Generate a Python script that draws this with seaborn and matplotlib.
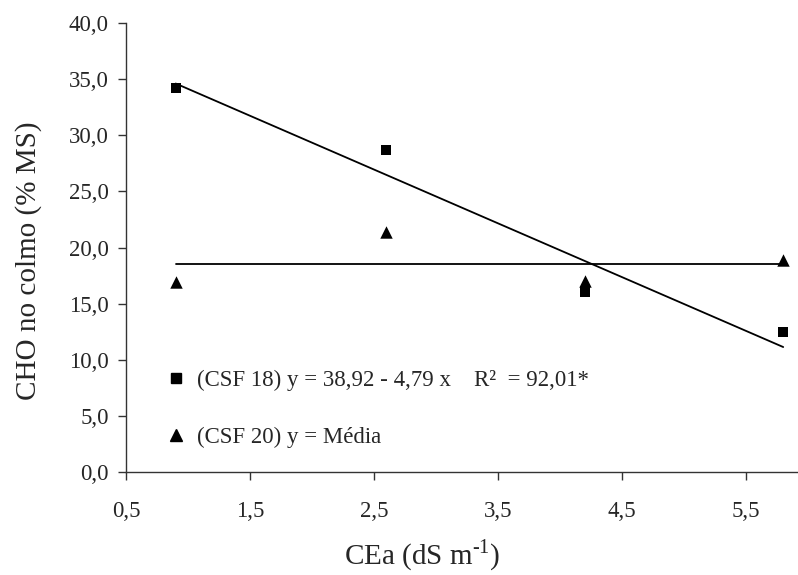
import numpy as np
import pandas as pd
import matplotlib
matplotlib.use("Agg")
import matplotlib.pyplot as plt
import seaborn as sns
from matplotlib.lines import Line2D

# Electrical conductivity of irrigation water (dS m-1)
cea = [0.9, 2.6, 4.2, 5.8]
# Stem carbohydrate content (% DM) per cultivar
csf18 = [34.2, 28.7, 16.0, 12.5]
csf20 = [16.9, 21.4, 17.0, 18.9]

# Fitted model for CSF 18 and mean for CSF 20
intercept, slope = 38.92, -4.79
r2_label = "92,01*"

x_ticks = [0.5, 1.5, 2.5, 3.5, 4.5, 5.5]
y_ticks = [0, 5, 10, 15, 20, 25, 30, 35, 40]

sns.set_style("ticks")
plt.rcParams["font.family"] = ["Liberation Serif", "DejaVu Serif"]
plt.rcParams["mathtext.fontset"] = "custom"
plt.rcParams["mathtext.rm"] = "Liberation Serif"

fig = plt.figure(figsize=(7.98, 5.75), dpi=100)
ax = fig.add_axes([0.158, 0.179, 0.842, 0.781])

df18 = pd.DataFrame({"x": cea, "y": csf18})
df20 = pd.DataFrame({"x": cea, "y": csf20})

xfit = np.array([cea[0], cea[-1]])
fit18 = pd.DataFrame({"x": xfit, "y": intercept + slope * xfit})
fit20 = pd.DataFrame({"x": xfit, "y": np.full(2, np.mean(csf20))})

sns.lineplot(data=fit18, x="x", y="y", color="black", linewidth=1.3, ax=ax)
sns.lineplot(data=fit20, x="x", y="y", color="black", linewidth=1.3, ax=ax)
sns.scatterplot(data=df18, x="x", y="y", marker="s", s=55, color="black",
                edgecolor="black", linewidth=0, ax=ax, zorder=3)
sns.scatterplot(data=df20, x="x", y="y", marker="^", s=80, color="black",
                edgecolor="black", linewidth=0, ax=ax, zorder=3)

ax.set_xlim(0.5, 0.5 + 672 / 124)
ax.set_ylim(0, 40)
ax.set_xticks(x_ticks)
ax.set_yticks(y_ticks)
ax.set_xticklabels([f"{v:.1f}".replace(".", ",") for v in x_ticks], fontsize=16.5)
ax.set_yticklabels([f"{v:.1f}".replace(".", ",") for v in y_ticks], fontsize=16.5)
ax.tick_params(axis="both", direction="out", length=5.5, width=1, color="#333333")
ax.tick_params(axis="x", pad=15)
ax.tick_params(axis="y", pad=7)

ax.set_xlabel("CEa (dS m$^{\\mathregular{\u2010 1}}$)", fontsize=21)
ax.set_ylabel("CHO no colmo (% MS)", fontsize=21)
ax.xaxis.set_label_coords(0.44, -0.145)
ax.yaxis.set_label_coords(-0.125, 0.47)

for side in ("top", "right"):
    ax.spines[side].set_visible(False)
for side in ("left", "bottom"):
    ax.spines[side].set_color("#333333")
    ax.spines[side].set_linewidth(1)

handles = [
    Line2D([], [], marker="s", color="black", linestyle="none", markersize=7.5),
    Line2D([], [], marker="^", color="black", linestyle="none", markersize=9),
]
labels = [
    "(CSF 18) y = 38,92 - 4,79 x    R²  = " + r2_label,
    "(CSF 20) y = Média",
]
ax.legend(handles, labels, loc="lower left", bbox_to_anchor=(0.043, 0.033),
          frameon=False, fontsize=16.5, handletextpad=0.45, labelspacing=1.58,
          handlelength=1.0, borderaxespad=0)

fig.savefig("out.png", dpi=100)
